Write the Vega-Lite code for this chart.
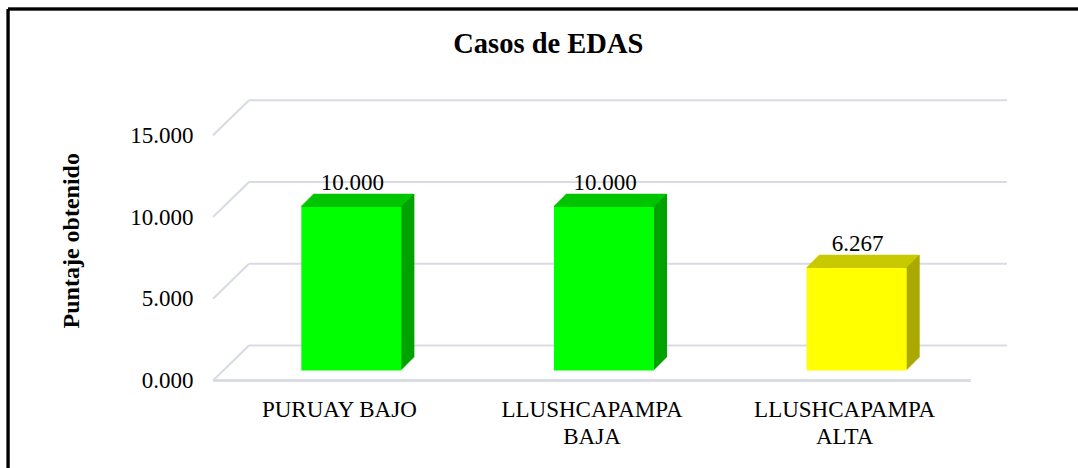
{
  "$schema": "https://vega.github.io/schema/vega-lite/v6.json",
  "autosize": "none",
  "padding": {"left": 213, "top": 100, "right": 107, "bottom": 87.5},
  "width": 758,
  "height": 280.5,
  "background": "white",
  "title": {"text": "Casos de EDAS", "font": "Liberation Serif", "fontSize": 28.5, "fontWeight": "bold", "color": "black", "anchor": "middle", "baseline": "alphabetic", "offset": 0, "dx": -43.7, "dy": 74},
  "config": {
    "view": {"stroke": null},
    "font": "Liberation Serif",
    "axisY": {"grid": false, "domain": false, "ticks": false, "labelPadding": 20, "labelFont": "Liberation Serif", "labelFontSize": 23, "labelColor": "black", "labelBaseline": "middle", "titleFont": "Liberation Serif", "titleFontSize": 24, "titleFontWeight": "bold", "titleColor": "black", "titlePadding": 46},
    "axisX": {"domain": false, "ticks": false, "grid": false, "labelAngle": 0, "labelFont": "Liberation Serif", "labelFontSize": 23, "labelColor": "black", "labelLimit": 0, "labelPadding": 36, "labelBaseline": "alphabetic", "labelLineHeight": 26.7}
  },
  "resolve": {"scale": {"x": "independent"}, "axis": {"x": "independent"}},
  "layer": [
    {
      "data": {"values": [{"v": 0}, {"v": 5}, {"v": 10}, {"v": 15}]},
      "layer": [
        {"mark": {"type": "rule", "xOffset": 36, "x2Offset": 36, "yOffset": -35, "color": "#d9dbe4", "strokeWidth": 2},
         "encoding": {"x": {"datum": 0, "type": "quantitative", "scale": {"domain": [0, 1], "nice": false, "zero": false}, "axis": null}, "x2": {"datum": 1}, "y": {"field": "v", "type": "quantitative", "title": "Puntaje obtenido", "scale": {"domain": [0, 17.156], "nice": false}}}},
        {"mark": {"type": "rule", "x2Offset": 36, "y2Offset": -35, "color": "#d9dbe4", "strokeWidth": 2},
         "encoding": {"x": {"datum": 0, "type": "quantitative", "axis": null}, "x2": {"datum": 0}, "y": {"field": "v", "type": "quantitative", "title": "Puntaje obtenido"}, "y2": {"field": "v"}}},
        {"mark": {"type": "rule", "color": "#d9dbe4", "strokeWidth": 2},
         "encoding": {"x": {"datum": 0, "type": "quantitative", "axis": null}, "x2": {"datum": 1}, "y": {"datum": 0, "type": "quantitative", "title": "Puntaje obtenido"}}},
        {"mark": {"type": "rule", "color": "black", "strokeWidth": 2.5},
         "encoding": {"x": {"datum": -0.2704, "type": "quantitative", "axis": null}, "y": {"datum": 22.72, "type": "quantitative", "title": "Puntaje obtenido"}, "y2": {"datum": -5.6}}},
        {"mark": {"type": "rule", "color": "black", "strokeWidth": 2.5},
         "encoding": {"x": {"datum": -0.2704, "type": "quantitative", "axis": null}, "x2": {"datum": 1.16}, "y": {"datum": 22.72, "type": "quantitative", "title": "Puntaje obtenido"}}}
      ]
    },
    {
      "data": {"values": [
        {"zona": "PURUAY BAJO", "puntaje": 10},
        {"zona": "LLUSHCAPAMPA BAJA", "puntaje": 10},
        {"zona": "LLUSHCAPAMPA ALTA", "puntaje": 6.267}
      ]},
      "encoding": {
        "x": {"field": "zona", "type": "nominal", "sort": null,
              "scale": {"paddingInner": 0.604, "paddingOuter": 0.302},
              "axis": {"title": null, "labelExpr": "indexof(datum.label, 'LLUSH') == 0 ? split(datum.label, ' ') : datum.label"}},
        "y": {"field": "puntaje", "type": "quantitative", "title": "Puntaje obtenido",
              "scale": {"domain": [0, 17.156], "nice": false},
              "axis": {"values": [0, 5, 10, 15], "format": ".3f"}}
      },
      "layer": [
        {
          "encoding": {"y2": {"datum": 0}, "color": {"condition": {"test": "datum.puntaje < 10", "value": "#a9a900"}, "value": "#00a200"}},
          "layer": [
            {"mark": {"type": "bar", "xOffset": 13, "yOffset": -11, "y2Offset": -11}},
            {"mark": {"type": "bar", "xOffset": 14, "yOffset": -12, "y2Offset": -12}},
            {"mark": {"type": "bar", "xOffset": 15, "yOffset": -13, "y2Offset": -13}},
            {"mark": {"type": "bar", "xOffset": 16, "yOffset": -14, "y2Offset": -14}},
            {"mark": {"type": "bar", "xOffset": 17, "yOffset": -15, "y2Offset": -15}},
            {"mark": {"type": "bar", "xOffset": 18, "yOffset": -16, "y2Offset": -16}},
            {"mark": {"type": "bar", "xOffset": 19, "yOffset": -17, "y2Offset": -17}},
            {"mark": {"type": "bar", "xOffset": 20, "yOffset": -18, "y2Offset": -18}},
            {"mark": {"type": "bar", "xOffset": 21, "yOffset": -19, "y2Offset": -19}},
            {"mark": {"type": "bar", "xOffset": 22, "yOffset": -20, "y2Offset": -20}},
            {"mark": {"type": "bar", "xOffset": 23, "yOffset": -21, "y2Offset": -21}},
            {"mark": {"type": "bar", "xOffset": 24, "yOffset": -22, "y2Offset": -22}},
            {"mark": {"type": "bar", "xOffset": 25, "yOffset": -23, "y2Offset": -23}}
          ]
        },
        {
          "encoding": {"y2": {"field": "puntaje"}, "color": {"condition": {"test": "datum.puntaje < 10", "value": "#c9c900"}, "value": "#00c400"}},
          "layer": [
            {"mark": {"type": "bar", "xOffset": 12, "yOffset": -11.4, "y2Offset": -10}},
            {"mark": {"type": "bar", "xOffset": 13, "yOffset": -12.4, "y2Offset": -11}},
            {"mark": {"type": "bar", "xOffset": 14, "yOffset": -13.4, "y2Offset": -12}},
            {"mark": {"type": "bar", "xOffset": 15, "yOffset": -14.4, "y2Offset": -13}},
            {"mark": {"type": "bar", "xOffset": 16, "yOffset": -15.4, "y2Offset": -14}},
            {"mark": {"type": "bar", "xOffset": 17, "yOffset": -16.4, "y2Offset": -15}},
            {"mark": {"type": "bar", "xOffset": 18, "yOffset": -17.4, "y2Offset": -16}},
            {"mark": {"type": "bar", "xOffset": 19, "yOffset": -18.4, "y2Offset": -17}},
            {"mark": {"type": "bar", "xOffset": 20, "yOffset": -19.4, "y2Offset": -18}},
            {"mark": {"type": "bar", "xOffset": 21, "yOffset": -20.4, "y2Offset": -19}},
            {"mark": {"type": "bar", "xOffset": 22, "yOffset": -21.4, "y2Offset": -20}},
            {"mark": {"type": "bar", "xOffset": 23, "yOffset": -22.4, "y2Offset": -21}},
            {"mark": {"type": "bar", "xOffset": 24, "yOffset": -23.3, "y2Offset": -22}}
          ]
        },
        {
          "mark": {"type": "bar", "xOffset": 12, "yOffset": -10, "y2Offset": -10},
          "encoding": {"y2": {"datum": 0}, "color": {"condition": {"test": "datum.puntaje < 10", "value": "#ffff00"}, "value": "#00ff00"}}
        },
        {
          "mark": {"type": "text", "xOffset": 13, "yOffset": -27, "baseline": "alphabetic", "align": "center", "font": "Liberation Serif", "fontSize": 23, "color": "black"},
          "encoding": {"text": {"field": "puntaje", "type": "quantitative", "format": ".3f"}}
        }
      ]
    }
  ]
}
